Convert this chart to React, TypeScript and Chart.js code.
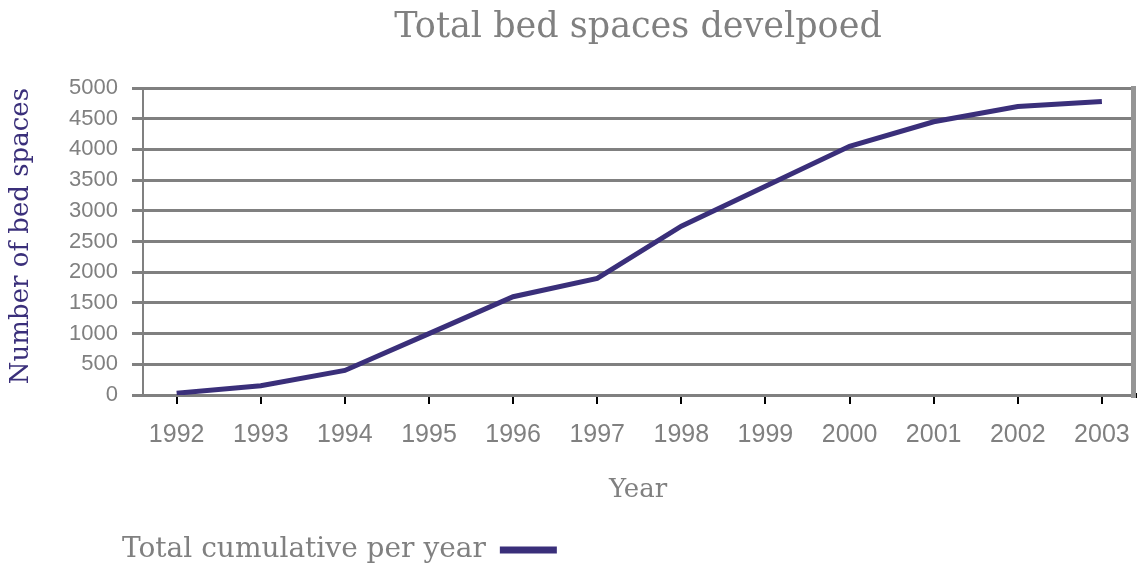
import { useEffect, useRef } from 'react';
import { Chart, registerables } from 'chart.js';

Chart.register(...registerables);

const years = [1992, 1993, 1994, 1995, 1996, 1997, 1998, 1999, 2000, 2001, 2002, 2003];
const values = [30, 150, 400, 1000, 1600, 1900, 2750, 3400, 4050, 4450, 4700, 4780];
const yTicks = [0, 500, 1000, 1500, 2000, 2500, 3000, 3500, 4000, 4500, 5000];
const chartTitle = 'Total bed spaces develpoed';
const seriesLabel = 'Total cumulative per year';
const xTitle = 'Year';
const yTitle = 'Number of bed spaces';

const LINE = '#3a2f7a';
const GRAY = '#808080';
const SERIF = 'DejaVu Serif';
const SANS = 'Liberation Sans';

const legendShift = {
  id: 'legendShift',
  afterLayout(c: any) {
    const l = c.legend;
    if (l) {
      l.left -= 31;
      l.right -= 31;
    }
  },
};

export default function App() {
  const ref = useRef<HTMLCanvasElement>(null);

  useEffect(() => {
    document.body.style.margin = '0';
    const canvas = ref.current;
    if (!canvas) return;
    const chart = new Chart(canvas, {
      type: 'line',
      data: {
        datasets: [
          {
            label: seriesLabel,
            data: years.map((x, i) => ({ x, y: values[i] })),
            borderColor: LINE,
            backgroundColor: LINE,
            borderWidth: 5,
            pointRadius: 0,
            tension: 0,
          },
        ],
      },
      plugins: [legendShift],
      options: {
        animation: false,
        responsive: false,
        layout: { padding: { top: 0, left: 0, right: 0, bottom: -8 } },
        plugins: {
          title: {
            display: true,
            fullSize: false,
            text: chartTitle,
            color: GRAY,
            font: { family: SERIF, size: 35, weight: 'normal' },
            padding: { top: 7, bottom: 39 },
          },
          legend: {
            position: 'bottom',
            fullSize: false,
            align: 'end',
            rtl: true,
            textDirection: 'ltr',
            labels: {
              color: GRAY,
              font: { family: SERIF, size: 28 },
              boxWidth: 57,
              boxHeight: 7,
              padding: 10,
              generateLabels: (c: any) =>
                c.data.datasets.map((d: any, i: number) => ({
                  text: d.label,
                  fillStyle: LINE,
                  strokeStyle: LINE,
                  lineWidth: 0,
                  fontColor: GRAY,
                  datasetIndex: i,
                  hidden: false,
                })),
            },
          },
          tooltip: { enabled: false },
        },
        scales: {
          x: {
            type: 'linear',
            min: 1991.6,
            max: 2003.37,
            afterBuildTicks: (s: any) => {
              s.ticks = years.map((v) => ({ value: v }));
            },
            ticks: {
              callback: (v: any) => String(v),
              color: GRAY,
              font: { family: SANS, size: 25 },
              padding: 16,
              maxRotation: 0,
              autoSkip: false,
            },
            grid: {
              drawOnChartArea: false,
              drawTicks: true,
              tickLength: 9,
              color: '#000000',
              lineWidth: 2,
            },
            border: { display: false },
            title: {
              display: true,
              text: xTitle,
              color: GRAY,
              font: { family: SERIF, size: 26 },
              padding: { top: 0, bottom: 20.4 },
            },
            afterFit: (s: any) => {
              s.height = 131;
              s.paddingLeft = 0;
              s.paddingRight = 0;
            },
          },
          y: {
            type: 'linear',
            min: 0,
            max: 5000,
            afterBuildTicks: (s: any) => {
              s.ticks = yTicks.map((v) => ({ value: v }));
            },
            ticks: {
              callback: (v: any) => String(v),
              color: GRAY,
              font: { family: SANS, size: 22 },
              padding: 14,
            },
            grid: { color: GRAY, lineWidth: 3, tickLength: 11 },
            border: { color: GRAY, width: 2 },
            title: {
              display: true,
              text: yTitle,
              color: LINE,
              align: 'end',
              font: { family: SERIF, size: 26 },
              padding: { top: 6, bottom: 0 },
            },
            afterFit: (s: any) => {
              s.width = 143;
            },
          },
          y2: {
            type: 'linear',
            position: 'right',
            min: 0,
            max: 5000,
            afterBuildTicks: (s: any) => {
              s.ticks = [{ value: yTicks[0] }];
            },
            ticks: { display: false },
            grid: {
              display: true,
              drawOnChartArea: false,
              drawTicks: true,
              tickLength: 4,
              color: '#000000',
              lineWidth: 5,
            },
            border: { color: '#959595', width: 5 },
            afterFit: (s: any) => {
              s.width = 8;
            },
          },
        },
      } as any,
    });
    return () => chart.destroy();
  }, []);

  return (
    <div style={{ width: 1141, height: 566 }}>
      <canvas ref={ref} width={1141} height={566} style={{ display: 'block' }} />
    </div>
  );
}
